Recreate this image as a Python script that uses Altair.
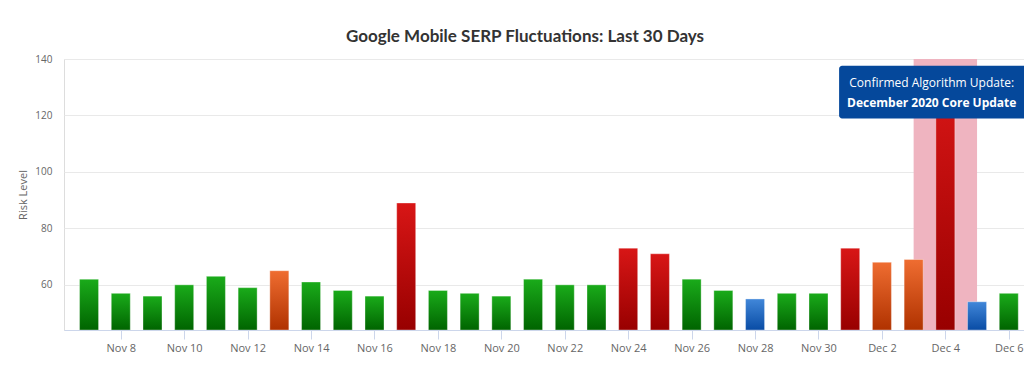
import altair as alt
import pandas as pd

dates = ["Nov 7", "Nov 8", "Nov 9", "Nov 10", "Nov 11", "Nov 12", "Nov 13", "Nov 14",
         "Nov 15", "Nov 16", "Nov 17", "Nov 18", "Nov 19", "Nov 20", "Nov 21", "Nov 22",
         "Nov 23", "Nov 24", "Nov 25", "Nov 26", "Nov 27", "Nov 28", "Nov 29", "Nov 30",
         "Dec 1", "Dec 2", "Dec 3", "Dec 4", "Dec 5", "Dec 6"]
values = [62, 57, 56, 60, 63, 59, 65, 61, 58, 56, 89, 58, 57, 56, 62, 60, 60, 73, 71, 62,
          58, 55, 57, 57, 73, 68, 69, 131, 54, 57]
levels = ["green", "green", "green", "green", "green", "green", "orange", "green", "green", "green",
          "red", "green", "green", "green", "green", "green", "green", "red", "red", "green",
          "green", "blue", "green", "green", "red", "orange", "orange", "red", "blue", "green"]
tick_labels = ["Nov 8", "Nov 10", "Nov 12", "Nov 14", "Nov 16", "Nov 18", "Nov 20", "Nov 22",
               "Nov 24", "Nov 26", "Nov 28", "Nov 30", "Dec 2", "Dec 4", "Dec 6"]
y_ticks = [60, 80, 100, 120, 140]
band_days = ["Dec 3", "Dec 5"]
update_day = "Dec 4"
note_line1 = "Confirmed Algorithm Update:"
note_line2 = "December 2020 Core Update"

df = pd.DataFrame({"idx": list(range(len(dates))), "date": dates, "value": values, "level": levels})
tick_idx = [dates.index(t) for t in tick_labels]
label_array = "[" + ",".join("'" + d + "'" for d in dates) + "]"

W, H = 960, 271
Y_MIN, Y_MAX = 44, 140

xscale = alt.Scale(domain=[-0.79, 29.48], nice=False, zero=False, padding=0)
yscale = alt.Scale(domain=[Y_MIN, Y_MAX], nice=False, zero=False, padding=0)

gradients = {
    "green": ("#1aab1a", "#006400"),
    "red": ("#d81616", "#980000"),
    "orange": ("#ef6d31", "#b03200"),
    "blue": ("#4187d9", "#094ca5"),
}

x_axis = alt.Axis(values=tick_idx, labelExpr=label_array + "[datum.value]", grid=False,
                  domainColor="#ccd6eb", tickColor="#ccd6eb", tickSize=9, labelColor="#666666",
                  labelFontSize=11, labelFont="Open Sans", labelPadding=3, title=None)
y_axis = alt.Axis(values=y_ticks, grid=True, gridColor="#e9e9e9", domain=False, ticks=False,
                  labelColor="#666666", labelFontSize=10, labelFont="Open Sans", labelPadding=12,
                  title="Risk Level", titleFontSize=11, titleFontWeight="normal", titleColor="#666666",
                  titleFont="Open Sans", titlePadding=6)

b0, b1 = dates.index(band_days[0]), dates.index(band_days[1])
band = alt.Chart(df).mark_rect(color="#efb4c0", clip=True).encode(
    x=alt.X("b0:Q", scale=xscale, axis=x_axis),
    x2="b1:Q",
    y=alt.Y("top:Q", scale=yscale, axis=y_axis),
    y2="bot:Q",
).transform_filter(alt.datum.idx == 0).transform_calculate(
    b0=str(b0), b1=str(b1), top=str(Y_MAX), bot=str(Y_MIN)
)

layers = [band]
for lvl, (c_top, c_bot) in gradients.items():
    grad = alt.Gradient(gradient="linear", x1=0, x2=0, y1=0, y2=1,
                        stops=[alt.GradientStop(offset=0, color=c_top),
                               alt.GradientStop(offset=1, color=c_bot)])
    layers.append(
        alt.Chart(df).transform_filter(alt.datum.level == lvl).mark_bar(
            color=grad, width=19, clip=True, stroke="white", strokeWidth=1, strokeOpacity=0.35
        ).encode(
            x=alt.X("idx:Q", scale=xscale),
            y=alt.Y("value:Q", scale=yscale),
            y2=alt.datum(Y_MIN),
        )
    )

ui = dates.index(update_day)
note_df = pd.DataFrame({"x0": [ui - 3.35], "x1": [ui + 3.5], "y0": [137.6], "y1": [118.9],
                        "xc": [ui - 0.43], "ya": [131.4], "yb": [124.5],
                        "t1": [note_line1], "t2": [note_line2]})
box = alt.Chart(note_df).mark_rect(color="#05489b", cornerRadius=3, clip=True).encode(
    x=alt.X("x0:Q", scale=xscale), x2="x1:Q",
    y=alt.Y("y0:Q", scale=yscale), y2="y1:Q",
)
txt1 = alt.Chart(note_df).mark_text(color="white", fontSize=12, font="Open Sans").encode(
    x=alt.X("xc:Q", scale=xscale), y=alt.Y("ya:Q", scale=yscale), text="t1:N")
txt2 = alt.Chart(note_df).mark_text(color="white", fontSize=12, font="Open Sans", fontWeight="bold").encode(
    x=alt.X("xc:Q", scale=xscale), y=alt.Y("yb:Q", scale=yscale), text="t2:N")
layers += [box, txt1, txt2]

chart = alt.layer(*layers).properties(
    width=W, height=H,
    title=alt.TitleParams("Google Mobile SERP Fluctuations: Last 30 Days", fontSize=17, font="Lato",
                          fontWeight="bold", color="#333333", anchor="middle", frame="group",
                          dx=-19, offset=8),
    autosize=alt.AutoSizeParams(type="none"),
    padding={"left": 64, "top": 59, "right": 0, "bottom": 45},
).configure_view(stroke=None).configure(background="white")

chart.save("out.html", embed_options={"renderer": "svg", "actions": False})
